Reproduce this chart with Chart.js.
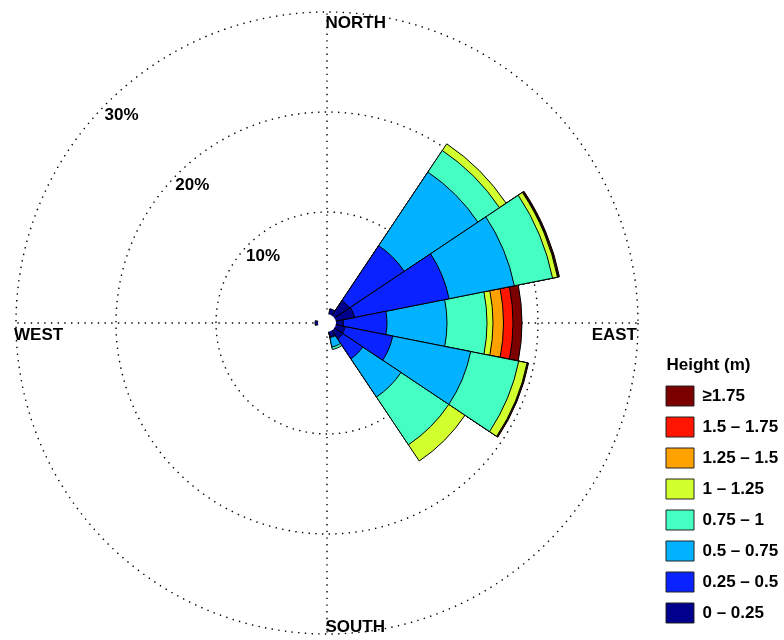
<!DOCTYPE html>
<html><head><meta charset="utf-8">
<script src="https://cdn.jsdelivr.net/npm/chart.js@4.4.1/dist/chart.umd.min.js"></script>
<style>html,body{margin:0;padding:0;background:#fff;}canvas{display:block;}</style>
</head><body>
<canvas id="c" width="784" height="640"></canvas>
<script>
// ---- data (percent of observations per direction, per wave height bin) ----
const directions = ['N','NNE','NE','ENE','E','ESE','SE','SSE','S','SSW','SW','WSW','W','WNW','NW','NNW'];
const binLabels = ['0 – 0.25','0.25 – 0.5','0.5 – 0.75','0.75 – 1','1 – 1.25','1.25 – 1.5','1.5 – 1.75','≥1.75'];
const binColors = ['#00008c','#0a22ff','#00b2ff','#45ffc2','#d2ff2e','#ffa200','#ff1500','#7d0000'];
const h0to025   = [0, 0.35, 1.6, 1.7, 0.55, 0.75, 0.8, 0.3, 0, 0, 0, 0, 0.1, 0, 0, 0];
const h025to05  = [0, 0, 6.6, 9.65, 4.35, 4.85, 2.4, 0.1, 0, 0, 0, 0, 0, 0, 0, 0];
const h05to075  = [0, 0, 8.85, 6.65, 6.0, 7.95, 4.6, 0.95, 0, 0, 0, 0, 0, 0, 0, 0];
const h075to1   = [0, 0, 2.6, 3.9, 4.0, 4.9, 5.75, 0.25, 0, 0, 0, 0, 0, 0, 0, 0];
const h1to125   = [0, 0, 0.8, 0.5, 0.6, 0.85, 1.95, 0, 0, 0, 0, 0, 0, 0, 0, 0];
const h125to15  = [0, 0, 0, 0.05, 1.05, 0.05, 0, 0, 0, 0, 0, 0, 0, 0, 0, 0];
const h15to175  = [0, 0, 0, 0.05, 0.95, 0.05, 0, 0, 0, 0, 0, 0, 0, 0, 0, 0];
const h175up    = [0, 0, 0, 0.1, 0.9, 0.05, 0, 0, 0, 0, 0, 0, 0, 0, 0, 0];
const ringTicks = [10, 20, 30];
const cardinalLabels = ['NORTH', 'EAST', 'SOUTH', 'WEST'];
const legendTitle = 'Height (m)';

const bins = [h0to025, h025to05, h05to075, h075to1, h1to125, h125to15, h15to175, h175up];
const FONT = '"Liberation Sans", Arial, Helvetica, sans-serif';

// stacked rose: dataset k holds cumulative percentage up to bin k (inner bins drawn on top)
const datasets = bins.map((bin, k) => ({
  label: binLabels[k],
  rAxisID: 'r',
  data: directions.map((_, i) => bins.slice(0, k + 1).reduce((s, b) => s + b[i], 0)),
  backgroundColor: (c) => bin[c.dataIndex] > 0 ? binColors[k] : 'rgba(0,0,0,0)',
  borderColor: '#000',
  borderWidth: (c) => bin[c.dataIndex] > 0 ? 1 : 0
}));

const overlay = {
  id: 'overlay',
  afterDatasetsDraw(chart) {
    const s = chart.scales.r, ctx = chart.ctx;
    ctx.save();
    ctx.fillStyle = '#fff';
    ctx.beginPath();
    ctx.arc(s.xCenter, s.yCenter, 9, 0, Math.PI * 2);
    ctx.fill();
    ctx.restore();
  },
  afterDraw(chart) {
    const s = chart.scales.r, ctx = chart.ctx;
    const xc = s.xCenter, yc = s.yCenter, R = s.getDistanceFromCenterForValue(s.max);
    ctx.save();
    ctx.font = 'bold 17px ' + FONT;
    ctx.fillStyle = '#000';
    ctx.textBaseline = 'alphabetic';
    ctx.textAlign = 'left';
    ctx.fillText(cardinalLabels[0], xc - 1.5, yc - R + 15.5);
    ctx.fillText(cardinalLabels[2], xc - 1.5, yc + R - 2);
    ctx.fillText(cardinalLabels[3], xc - R - 2, yc + 17);
    ctx.textAlign = 'right';
    ctx.fillText(cardinalLabels[1], xc + R - 1, yc + 17);
    ctx.textAlign = 'left';
    ringTicks.forEach(v => {
      const rr = s.getDistanceFromCenterForValue(v);
      ctx.fillText(v + '%', xc - rr * Math.SQRT1_2 - 2.5, yc - rr * Math.SQRT1_2 + 16.5);
    });
    // legend title, placed relative to the legend's first entry
    const lg = chart.legend;
    if (lg && lg.legendHitBoxes && lg.legendHitBoxes.length) {
      const hb = lg.legendHitBoxes[0];
      ctx.textAlign = 'center';
      ctx.textBaseline = 'middle';
      ctx.fillText(legendTitle, hb.left + 42.5, hb.top - 21);
    }
    ctx.restore();
  }
};

const dotted = [1.4, 5.3];
new Chart(document.getElementById('c'), {
  type: 'polarArea',
  data: { labels: directions, datasets },
  options: {
    responsive: false,
    animation: false,
    layout: { padding: { left: -5, right: 0, top: 12, bottom: 6 } },
    scales: {
      r: {
        type: 'radialLinear',
        min: -1.1, max: 30,
        startAngle: -11.25,
        afterBuildTicks: (scale) => { scale.ticks = ringTicks.map(v => ({ value: v })); },
        ticks: { display: false },
        pointLabels: { display: false },
        angleLines: { display: false },
        grid: { display: true, circular: true, color: '#000', lineWidth: 1.4 },
        border: { dash: dotted }
      },
      r2: {
        type: 'radialLinear',
        axis: 'r',
        min: -1.1, max: 30,
        startAngle: 0,
        ticks: { display: false },
        pointLabels: { display: false },
        grid: { display: false },
        angleLines: {
          display: true,
          color: '#000',
          lineWidth: (c) => c.index % 4 === 0 ? 1.4 : 0,
          borderDash: dotted
        }
      }
    },
    plugins: {
      tooltip: { enabled: false },
      legend: {
        display: true,
        position: 'right',
        align: 'end',
        maxWidth: 129,
        title: { display: false },
        labels: {
          boxWidth: 28, boxHeight: 20, padding: 11, color: '#000',
          font: { family: FONT, size: 17, weight: 'bold' },
          generateLabels: () => binLabels.map((t, k) => ({
            text: t, fillStyle: binColors[k], strokeStyle: '#222', lineWidth: 1,
            hidden: false, datasetIndex: k
          })).reverse()
        }
      }
    }
  },
  plugins: [overlay]
});
</script>
</body></html>
